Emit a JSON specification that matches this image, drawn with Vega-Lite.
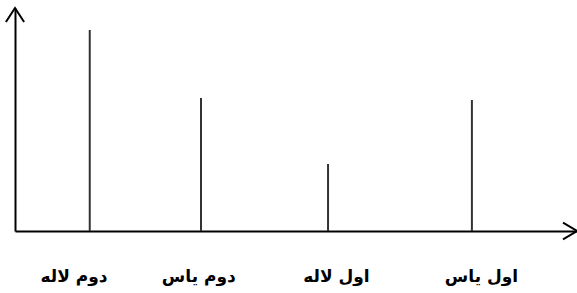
{
  "$schema": "https://vega.github.io/schema/vega-lite/v6.json",
  "width": 562,
  "height": 223,
  "autosize": "none",
  "padding": {"left": 15, "top": 8, "right": 0, "bottom": 62},
  "background": "white",
  "config": {"view": {"stroke": null}},
  "datasets": {
    "bars": [
      {"label": "دوم لاله", "pos": 13.3, "labelpos": 10.5, "value": 201},
      {"label": "دوم یاس", "pos": 33.1, "labelpos": 32.7, "value": 133},
      {"label": "اول لاله", "pos": 55.7, "labelpos": 57.2, "value": 67},
      {"label": "اول یاس", "pos": 81.3, "labelpos": 83.0, "value": 131}
    ]
  },
  "layer": [
    {
      "data": {"name": "bars"},
      "mark": {"type": "rule", "color": "#333333", "strokeWidth": 2},
      "encoding": {
        "x": {"field": "pos", "type": "quantitative", "scale": {"domain": [0, 100], "nice": false}, "axis": {"labels": false, "ticks": false, "grid": false, "title": null, "domainColor": "black", "domainWidth": 2}},
        "y": {"field": "value", "type": "quantitative", "scale": {"domain": [0, 223], "nice": false}, "axis": {"labels": false, "ticks": false, "grid": false, "title": null, "domainColor": "black", "domainWidth": 2}},
        "y2": {"datum": 0}
      }
    },
    {
      "data": {"name": "bars"},
      "mark": {"type": "text", "font": "DejaVu Sans", "fontWeight": "bold", "fontSize": 17, "align": "center", "baseline": "middle", "dy": 46, "color": "black"},
      "encoding": {
        "x": {"field": "labelpos", "type": "quantitative"},
        "y": {"datum": 0},
        "text": {"field": "label"}
      }
    },
    {
      "data": {"values": [{"ax": "x", "px": 100, "py": 0}]},
      "mark": {"type": "point", "shape": "M-1,-0.6 L0,0 L-1,0.6", "size": 784, "filled": false, "stroke": "black", "strokeWidth": 2, "opacity": 1},
      "encoding": {
        "x": {"field": "px", "type": "quantitative"},
        "y": {"field": "py", "type": "quantitative"}
      }
    },
    {
      "data": {"values": [{"ax": "y", "px": 0, "py": 223}]},
      "mark": {"type": "point", "shape": "M-0.65,1 L0,0 L0.65,1", "size": 784, "filled": false, "stroke": "black", "strokeWidth": 2, "opacity": 1},
      "encoding": {
        "x": {"field": "px", "type": "quantitative"},
        "y": {"field": "py", "type": "quantitative"}
      }
    }
  ]
}
